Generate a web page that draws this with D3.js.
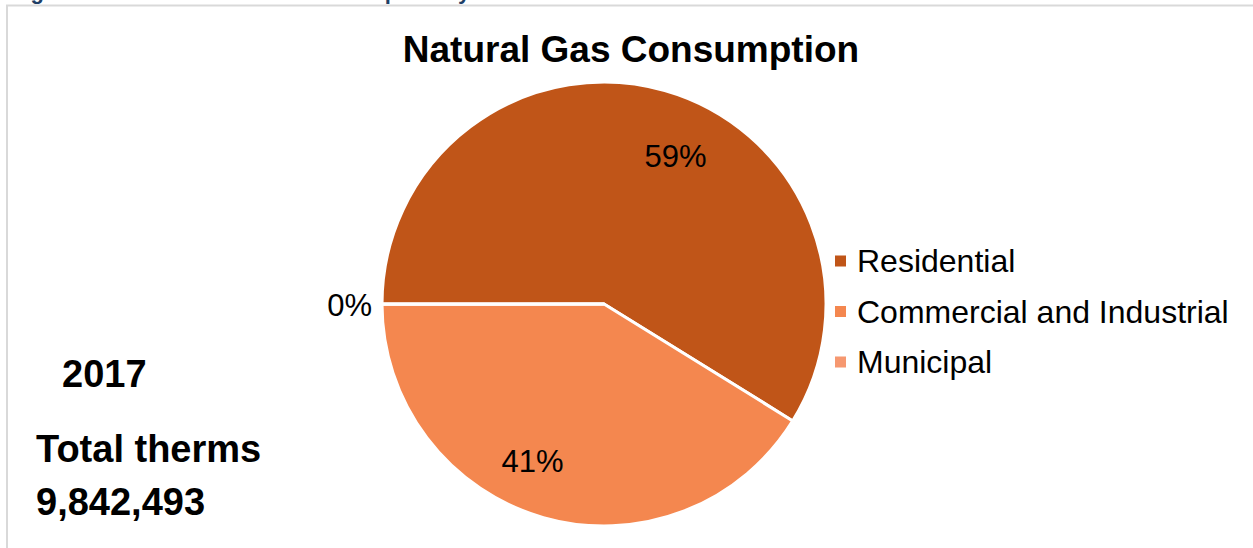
<!DOCTYPE html>
<html>
<head>
    <title>Natural Gas Consumption</title>
    <script src="https://cdn.jsdelivr.net/npm/d3@7"></script>
    <style>
        body { margin: 0; background: #fff; }
        svg text { font-family: "Liberation Sans", Arial, sans-serif; }
    </style>
</head>
<body>
    <div id="chart"></div>
    <script>
        // data
        var sectors = ["Residential", "Commercial and Industrial", "Municipal"];
        var therms = [5790000, 4050000, 2493];
        var colors = ["#c05518", "#f4874f", "#f69870"];
        var year = "2017";
        var totalLabel = "Total therms";

        var width = 1253, height = 548;
        var cx = 604, cy = 304, radius = 222;

        var svg = d3.select("#chart").append("svg")
            .attr("width", width)
            .attr("height", height);

        // cut-off figure caption above the frame
        svg.append("text")
            .attr("x", 11)
            .attr("y", -1)
            .attr("fill", "#1f3f66")
            .attr("font-weight", "bold")
            .attr("font-size", 22)
            .text("Figure 8: Total Natural Gas Consumption by Sector");

        // chart frame
        svg.append("path")
            .attr("d", "M7," + height + " V5.5 H" + width)
            .attr("fill", "none")
            .attr("stroke", "#d9d9d9")
            .attr("stroke-width", 2);

        svg.append("text")
            .attr("x", 631)
            .attr("y", 62)
            .attr("text-anchor", "middle")
            .attr("font-weight", "bold")
            .attr("font-size", 37)
            .text("Natural Gas Consumption");

        var total = d3.sum(therms);
        var data = sectors.map((s, i) => ({ name: s, value: therms[i], color: colors[i] }));

        var pie = d3.pie()
            .value(d => d.value)
            .sort(null)
            .startAngle(-Math.PI / 2)
            .endAngle(3 * Math.PI / 2);

        var arc = d3.arc().innerRadius(0).outerRadius(radius);

        var g = svg.append("g").attr("transform", "translate(" + cx + "," + cy + ")");
        var arcs = pie(data);

        g.selectAll("path.slice")
            .data(arcs)
            .enter().append("path")
            .attr("class", "slice")
            .attr("d", arc)
            .attr("fill", d => d.data.color)
            .attr("stroke", "#fff")
            .attr("stroke-width", 3)
            .attr("stroke-linejoin", "round");

        var pct = d3.format(".0%");
        var labelShift = 9.3 * Math.PI / 180;
        var labelR = radius * 0.757;

        g.selectAll("text.pct")
            .data(arcs)
            .enter().append("text")
            .attr("class", "pct")
            .attr("font-size", 31)
            .attr("dominant-baseline", "central")
            .attr("text-anchor", d => d.value / total < 0.01 ? "end" : "middle")
            .attr("x", d => {
                var a = (d.startAngle + d.endAngle) / 2;
                if (d.value / total < 0.01) return -(radius + 10);
                return Math.sin(a + labelShift) * labelR;
            })
            .attr("y", d => {
                var a = (d.startAngle + d.endAngle) / 2;
                if (d.value / total < 0.01) return 1;
                return -Math.cos(a + labelShift) * labelR + 5;
            })
            .text(d => pct(d.value / total));

        // legend
        var legend = svg.append("g").attr("transform", "translate(835,261)");
        var rows = legend.selectAll("g")
            .data(data)
            .enter().append("g")
            .attr("transform", (d, i) => "translate(0," + (i * 50.5) + ")");
        rows.append("rect")
            .attr("x", 0).attr("y", -5.5)
            .attr("width", 11).attr("height", 11)
            .attr("fill", d => d.color);
        rows.append("text")
            .attr("x", 22)
            .attr("dominant-baseline", "central")
            .attr("font-size", 32)
            .text(d => d.name);

        // left annotation
        svg.append("text")
            .attr("x", 62).attr("y", 374)
            .attr("dominant-baseline", "central")
            .attr("font-weight", "bold").attr("font-size", 38)
            .text(year);
        svg.append("text")
            .attr("x", 36).attr("y", 449)
            .attr("dominant-baseline", "central")
            .attr("font-weight", "bold").attr("font-size", 38)
            .text(totalLabel);
        svg.append("text")
            .attr("x", 36).attr("y", 502)
            .attr("dominant-baseline", "central")
            .attr("font-weight", "bold").attr("font-size", 38)
            .text(d3.format(",")(total));
    </script>
</body>
</html>
